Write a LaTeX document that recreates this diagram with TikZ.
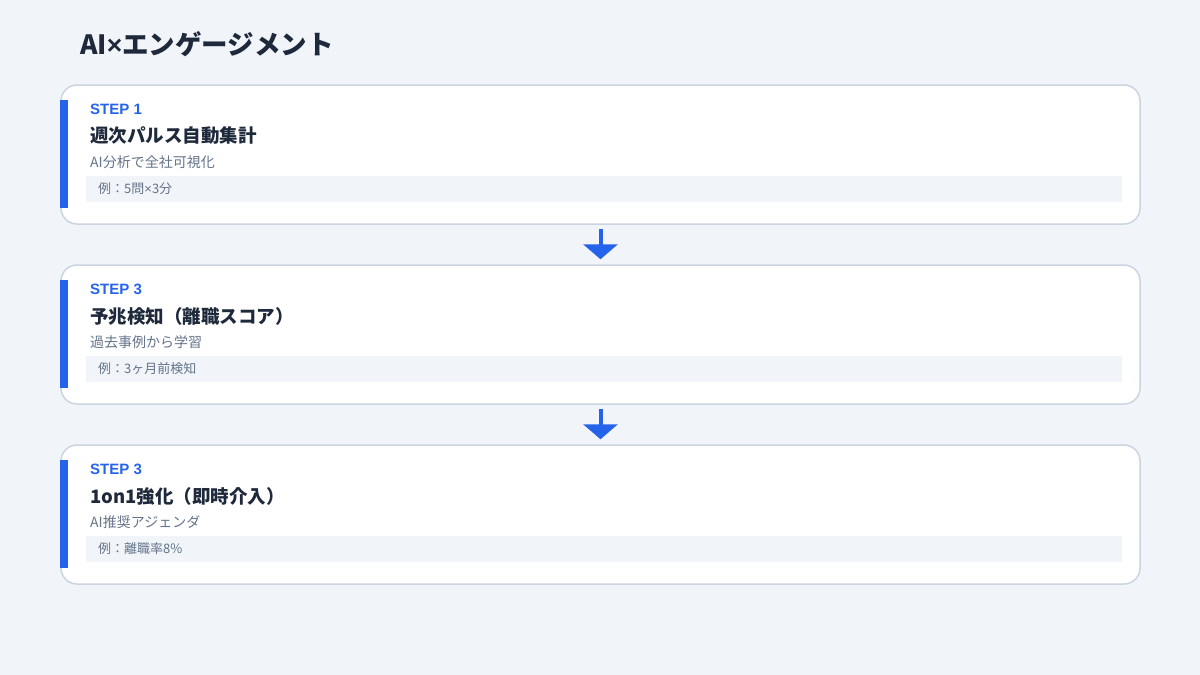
\documentclass[tikz,border=0pt]{standalone}
\usepackage{fontspec}
\setmainfont{Noto Sans CJK JP}
\newfontfamily\latinfont{Liberation Sans}
\usetikzlibrary{arrows.meta}
\definecolor{bg}{HTML}{F1F4F8}
\definecolor{cardborder}{HTML}{CBD5E1}
\definecolor{accent}{HTML}{2563EB}
\definecolor{dark}{HTML}{1E293B}
\definecolor{muted}{HTML}{64748B}
\definecolor{exfill}{HTML}{F1F4F8}
\newcommand{\xmul}{{\latinfont ×}}
\tikzset{
  card/.style={draw=cardborder, line width=1.5pt, fill=white, rounded corners=16pt,
    minimum width=1079pt, minimum height=139pt, inner sep=0pt},
  stepfont/.style={anchor=west, text=accent, font=\fontsize{15}{17}\selectfont\latinfont\bfseries, inner sep=0pt},
  titlefont/.style={anchor=west, text=dark, font=\fontsize{18.5}{20}\selectfont\bfseries, inner sep=0pt},
  subfont/.style={anchor=west, text=muted, font=\fontsize{14}{16}\selectfont, inner sep=0pt},
  exbox/.style={fill=exfill, minimum width=1036pt, minimum height=26pt, inner sep=0pt},
  exfont/.style={anchor=west, text=muted, font=\fontsize{13}{15}\selectfont, inner sep=0pt},
  flowarrow/.style={draw=accent, line width=4pt, -{Triangle[width=34pt,length=15pt]}, shorten <=4pt, shorten >=5pt},
}
\newcommand{\mkcard}[6]{%
  \node[card] (#1) at (600.5,#2+69.5) {};
  \fill[accent] (60,#2+15) rectangle (68,#2+123);
  \node[stepfont] (#1s) at (90,#2+24) {#3};
  \node[titlefont] (#1t) at (90,#2+51) {#4};
  \node[subfont] (#1u) at (90,#2+77) {#5};
  \node[exbox] (#1b) at (604,#2+104) {};
  \node[exfont] (#1e) at (98,#2+104) {#6};
}
\begin{document}
\begin{tikzpicture}[x=1pt,y=-1pt]
\fill[bg] (0,0) rectangle (1200,675);
\useasboundingbox (0,0) rectangle (1200,675);
\node[anchor=west, text=dark, font=\fontsize{26.5}{30}\selectfont\bfseries, inner sep=0pt] (title) at (80,44) {AI\xmul エンゲージメント};
\mkcard{c1}{85}{STEP 1}{週次パルス自動集計}{AI分析で全社可視化}{例：5問\xmul 3分}
\mkcard{c2}{265}{STEP 3}{予兆検知（離職スコア）}{過去事例から学習}{例：3ヶ月前検知}
\mkcard{c3}{445}{STEP 3}{1on1強化（即時介入）}{AI推奨アジェンダ}{例：離職率8\%}
\draw[flowarrow] (c1.south) -- (c2.north);
\draw[flowarrow] (c2.south) -- (c3.north);
\end{tikzpicture}
\end{document}
